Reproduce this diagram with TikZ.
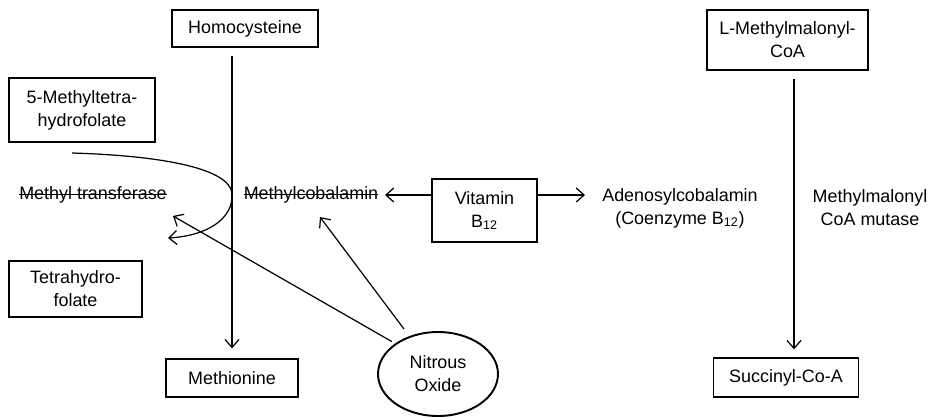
\documentclass[tikz,border=0pt]{standalone}
\usepackage{fontspec}
\setmainfont{Liberation Sans}
\usetikzlibrary{shapes.geometric, arrows.meta}

\newcommand\crossout[1]{\setbox0\hbox{#1}\rlap{\rule[0.52ex]{\wd0}{0.6pt}}\box0}

\tikzset{
    box/.style={draw, thick, minimum width=#1, minimum height=0.74cm, align=center, inner sep=1pt},
    txt/.style={align=center, inner sep=1pt},
    conn/.style={-{Straight Barb[length=4.5pt, width=8pt]}, line width=0.7pt}
}

\begin{document}
\begin{tikzpicture}[x=0.02cm, y=-0.02cm, font=\fontsize{10.2}{13}\selectfont]
                \useasboundingbox (0,0) rectangle (934,417);

                \node[box=2.92cm] (hc) at (245,28.5) {Homocysteine};
                \node[box=2.92cm, minimum height=1.28cm] (mthf) at (82,110) {5-Methyltetra-\\hydrofolate};
                \node[box=2.66cm, minimum height=1.12cm] (thf) at (75.5,289) {Tetrahydro-\\folate};
                \node[box=2.64cm, minimum height=0.76cm] (mn) at (232,378) {Methionine};
                \node[txt] (mt) at (93,195) {\crossout{Methyl transferase}};
                \node[txt] (mc) at (311,195) {\crossout{Methylcobalamin}};
                \node[box=2.1cm, minimum height=1.26cm] (vb) at (484.5,210.5) {Vitamin\\B\textsubscript{12}};
                \node[txt] (ac) at (680,208) {Adenosylcobalamin\\(Coenzyme B\textsubscript{12})};
                \node[txt] (mm) at (870,208) {Methylmalonyl\\CoA mutase};
                \node[box=3.22cm, minimum height=1.2cm] (lm) at (787.5,40) {L-Methylmalonyl-\\CoA};
                \node[box=2.9cm, minimum height=0.78cm] (sc) at (786,377.5) {Succinyl-Co-A};
                \node[draw, ellipse, line width=1.1pt, minimum width=2.4cm, minimum height=1.68cm, align=center, inner sep=0pt] (no) at (438,374) {Nitrous\\Oxide};

                \coordinate (c1) at (72,153);
                \coordinate (c2) at (168,238);
                \coordinate (t1) at (173,216);
                \coordinate (t2) at (320,217);
                \coordinate (a1) at (432,195);
                \coordinate (a2) at (385,195);
                \coordinate (a3) at (537,195);
                \coordinate (a4) at (585,195);

                \draw[conn] (mn.north |- hc.south) ++(0,8) -- ([yshift=0.2cm]mn.north);
                \draw[conn] ([yshift=-0.16cm]lm.south -| 794,0) -- ([yshift=0.16cm]sc.north -| 794,0);
                \draw[conn] (a1) -- (a2);
                \draw[conn] (a3) -- (a4);
                \draw[conn] (no.north west) ++(-3,-2) -- (t1);
                \draw[conn] (no.north) ++(-34,-2) -- (t2);
                \draw[conn] (c1) .. controls (170,156) and (229,170) .. (232,193)
                                 .. controls (234,220) and (205,236) .. (c2);
            \end{tikzpicture}
\end{document}
